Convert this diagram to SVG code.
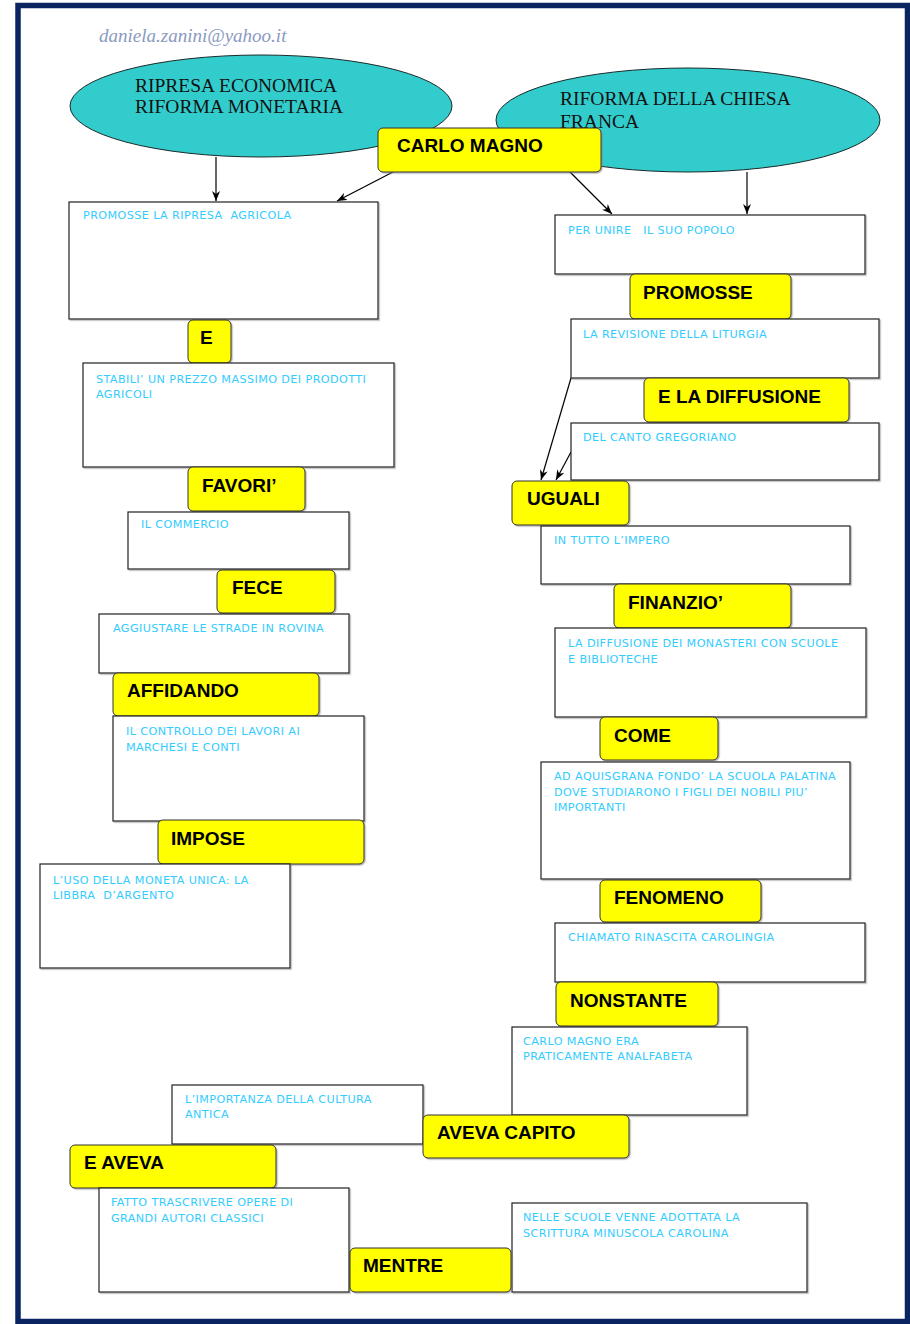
<svg xmlns="http://www.w3.org/2000/svg" width="910" height="1324" viewBox="0 0 910 1324">
<style>
.frame{fill:#ffffff;stroke:#0a2462;stroke-width:5.5}
.ell{fill:#33cccc;stroke:#1a2a2a;stroke-width:1}
.et{font-family:"Liberation Serif",serif;font-size:19.5px;fill:#111111}
.y{fill:#ffff00;stroke:#333333;stroke-width:1;filter:url(#sh)}
.yt{font-family:"Liberation Sans",Arial,sans-serif;font-weight:bold;font-size:19px;fill:#000000}
.w{fill:#ffffff;stroke:#222222;stroke-width:1.2;filter:url(#sh)}
.wt{font-family:"DejaVu Sans",Verdana,sans-serif;font-size:11.2px;fill:#33ccff;letter-spacing:0.4px}
.mail{font-family:"Liberation Serif",serif;font-style:italic;font-size:19px;fill:#8a9ac0}
.c{stroke:#000000;stroke-width:1.2;fill:none;marker-end:url(#ah)}
</style>
<defs>
<filter id="sh" x="-5%" y="-5%" width="110%" height="115%">
<feDropShadow dx="1.2" dy="1.2" stdDeviation="0.6" flood-color="#808080" flood-opacity="0.6"/>
</filter>
<marker id="ah" markerUnits="userSpaceOnUse" markerWidth="10" markerHeight="8" refX="10" refY="4" orient="auto">
<path d="M0,0 L10,4 L0,8 L3,4 Z" fill="#000000"/>
</marker>
</defs>
<rect x="0" y="0" width="910" height="1324" fill="#ffffff"/>
<rect class="frame" x="18" y="5.5" width="889.5" height="1316"/>
<text class="mail" x="99" y="42">daniela.zanini@yahoo.it</text>

<g id="ellipse-economia">
<ellipse class="ell" cx="261" cy="106" rx="191" ry="51"/>
<text class="et" x="135" y="92">RIPRESA ECONOMICA</text>
<text class="et" x="135" y="113">RIFORMA MONETARIA</text>
</g>
<g id="ellipse-chiesa">
<ellipse class="ell" cx="688" cy="120" rx="192" ry="52"/>
<text class="et" x="560" y="105">RIFORMA DELLA CHIESA</text>
<text class="et" x="560" y="128">FRANCA</text>
</g>

<g id="connectors">
<line class="c" x1="216" y1="157" x2="216" y2="201"/>
<line class="c" x1="393" y1="172" x2="337" y2="201"/>
<line class="c" x1="570" y1="172" x2="612" y2="214"/>
<line class="c" x1="747" y1="172" x2="747" y2="214"/>
<line class="c" x1="571" y1="378" x2="541" y2="480"/>
<line class="c" x1="571" y1="452" x2="556" y2="480"/>
</g>

<g id="carlo-magno"><rect class="y" x="378" y="128" width="223" height="44" rx="5"/><text class="yt" x="397" y="152">CARLO MAGNO</text></g>

<g id="b1"><rect class="w" x="69" y="202" width="309" height="117"/><text class="wt" x="83" y="219" xml:space="preserve">PROMOSSE LA RIPRESA  AGRICOLA</text></g>
<g id="l-e"><rect class="y" x="188" y="320" width="43" height="43" rx="5"/><text class="yt" x="200" y="344">E</text></g>
<g id="b2"><rect class="w" x="83" y="363" width="311" height="104"/><text class="wt" x="96" y="383">STABILI’ UN PREZZO MASSIMO DEI PRODOTTI</text><text class="wt" x="96" y="398">AGRICOLI</text></g>
<g id="l-favori"><rect class="y" x="188" y="467" width="117" height="44" rx="5"/><text class="yt" x="202" y="492">FAVORI’</text></g>
<g id="b3"><rect class="w" x="128" y="512" width="221" height="57"/><text class="wt" x="141" y="528">IL COMMERCIO</text></g>
<g id="l-fece"><rect class="y" x="217" y="570" width="118" height="43" rx="5"/><text class="yt" x="232" y="594">FECE</text></g>
<g id="b4"><rect class="w" x="99" y="614" width="250" height="59"/><text class="wt" x="113" y="632">AGGIUSTARE LE STRADE IN ROVINA</text></g>
<g id="l-affidando"><rect class="y" x="113" y="673" width="206" height="43" rx="5"/><text class="yt" x="127" y="697">AFFIDANDO</text></g>
<g id="b5"><rect class="w" x="113" y="716" width="251" height="105"/><text class="wt" x="126" y="735">IL CONTROLLO DEI LAVORI AI</text><text class="wt" x="126" y="751">MARCHESI E CONTI</text></g>
<g id="l-impose"><rect class="y" x="158" y="820" width="206" height="44" rx="5"/><text class="yt" x="171" y="845">IMPOSE</text></g>
<g id="b6"><rect class="w" x="40" y="864" width="250" height="104"/><text class="wt" x="53" y="884">L’USO DELLA MONETA UNICA: LA</text><text class="wt" x="53" y="899" xml:space="preserve">LIBBRA  D’ARGENTO</text></g>

<g id="r1"><rect class="w" x="555" y="215" width="310" height="59"/><text class="wt" x="568" y="234" xml:space="preserve">PER UNIRE   IL SUO POPOLO</text></g>
<g id="l-promosse"><rect class="y" x="630" y="274" width="161" height="45" rx="5"/><text class="yt" x="643" y="299">PROMOSSE</text></g>
<g id="r2"><rect class="w" x="571" y="319" width="308" height="59"/><text class="wt" x="583" y="338">LA REVISIONE DELLA LITURGIA</text></g>
<g id="l-diffusione"><rect class="y" x="644" y="378" width="205" height="44" rx="5"/><text class="yt" x="658" y="403">E LA DIFFUSIONE</text></g>
<g id="r3"><rect class="w" x="571" y="423" width="308" height="57"/><text class="wt" x="583" y="441">DEL CANTO GREGORIANO</text></g>
<g id="l-uguali"><rect class="y" x="512" y="481" width="117" height="44" rx="5"/><text class="yt" x="527" y="505">UGUALI</text></g>
<g id="r4"><rect class="w" x="541" y="526" width="309" height="58"/><text class="wt" x="554" y="544">IN TUTTO L’IMPERO</text></g>
<g id="l-finanzio"><rect class="y" x="614" y="584" width="177" height="44" rx="5"/><text class="yt" x="628" y="609">FINANZIO’</text></g>
<g id="r5"><rect class="w" x="555" y="628" width="311" height="89"/><text class="wt" x="568" y="647">LA DIFFUSIONE DEI MONASTERI CON SCUOLE</text><text class="wt" x="568" y="663">E BIBLIOTECHE</text></g>
<g id="l-come"><rect class="y" x="600" y="717" width="118" height="43" rx="5"/><text class="yt" x="614" y="742">COME</text></g>
<g id="r6"><rect class="w" x="541" y="762" width="309" height="117"/><text class="wt" x="554" y="780">AD AQUISGRANA FONDO’ LA SCUOLA PALATINA</text><text class="wt" x="554" y="796">DOVE STUDIARONO I FIGLI DEI NOBILI PIU’</text><text class="wt" x="554" y="811">IMPORTANTI</text></g>
<g id="l-fenomeno"><rect class="y" x="600" y="880" width="161" height="42" rx="5"/><text class="yt" x="614" y="904">FENOMENO</text></g>
<g id="r7"><rect class="w" x="555" y="923" width="310" height="59"/><text class="wt" x="568" y="941">CHIAMATO RINASCITA CAROLINGIA</text></g>
<g id="l-nonstante"><rect class="y" x="556" y="982" width="162" height="44" rx="5"/><text class="yt" x="570" y="1007">NONSTANTE</text></g>
<g id="r8"><rect class="w" x="512" y="1027" width="235" height="88"/><text class="wt" x="523" y="1045">CARLO MAGNO ERA</text><text class="wt" x="523" y="1060">PRATICAMENTE ANALFABETA</text></g>
<g id="r9"><rect class="w" x="172" y="1085" width="251" height="59"/><text class="wt" x="185" y="1103">L’IMPORTANZA DELLA CULTURA</text><text class="wt" x="185" y="1118">ANTICA</text></g>
<g id="l-capito"><rect class="y" x="423" y="1115" width="206" height="43" rx="5"/><text class="yt" x="437" y="1139">AVEVA CAPITO</text></g>
<g id="l-eaveva"><rect class="y" x="70" y="1145" width="206" height="43" rx="5"/><text class="yt" x="84" y="1169">E AVEVA</text></g>
<g id="r10"><rect class="w" x="99" y="1188" width="250" height="104"/><text class="wt" x="111" y="1206">FATTO TRASCRIVERE OPERE DI</text><text class="wt" x="111" y="1222">GRANDI AUTORI CLASSICI</text></g>
<g id="r11"><rect class="w" x="512" y="1203" width="295" height="89"/><text class="wt" x="523" y="1221">NELLE SCUOLE VENNE ADOTTATA LA</text><text class="wt" x="523" y="1237">SCRITTURA MINUSCOLA CAROLINA</text></g>
<g id="l-mentre"><rect class="y" x="350" y="1248" width="161" height="44" rx="5"/><text class="yt" x="363" y="1272">MENTRE</text></g>
</svg>
